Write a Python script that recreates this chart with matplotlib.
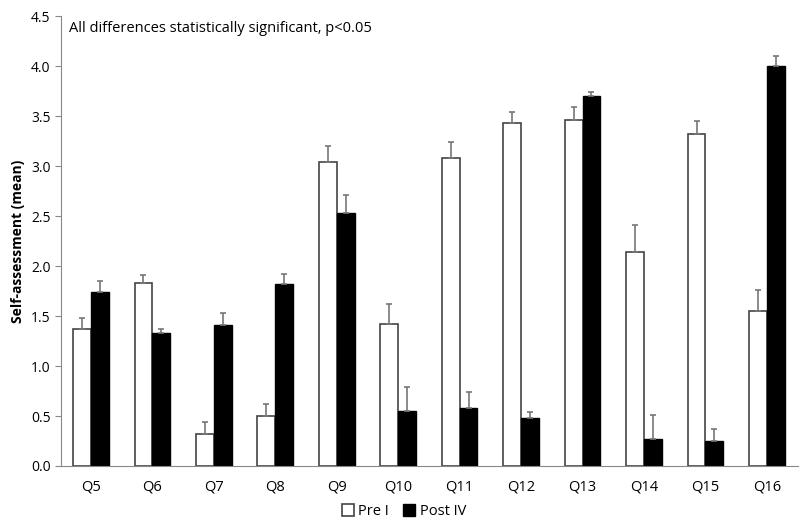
import matplotlib.pyplot as plt
import numpy as np

plt.rcParams['font.family'] = ['Open Sans', 'DejaVu Sans']

questions = ['Q5', 'Q6', 'Q7', 'Q8', 'Q9', 'Q10', 'Q11', 'Q12', 'Q13', 'Q14', 'Q15', 'Q16']
pre_mean = [1.37, 1.83, 0.32, 0.50, 3.04, 1.42, 3.08, 3.43, 3.46, 2.14, 3.32, 1.55]
pre_err = [0.11, 0.08, 0.12, 0.12, 0.16, 0.20, 0.16, 0.11, 0.13, 0.27, 0.13, 0.21]
post_mean = [1.74, 1.33, 1.41, 1.82, 2.53, 0.55, 0.58, 0.48, 3.70, 0.27, 0.25, 4.00]
post_err = [0.11, 0.04, 0.12, 0.10, 0.18, 0.24, 0.16, 0.06, 0.04, 0.24, 0.12, 0.10]

fig = plt.figure(figsize=(8, 5.23), dpi=100)
ax = fig.add_axes([0.076, 0.109, 0.921, 0.86])

x = np.arange(len(questions))
w = 0.29
err_kw = dict(ecolor='#777777', elinewidth=1.2, capsize=2.5, capthick=1.2)
ax.bar(x - w / 2, pre_mean, w, color='white', edgecolor='#444444', linewidth=1.2,
       yerr=[np.zeros(len(x)), pre_err], error_kw=err_kw, label='Pre I')
ax.bar(x + w / 2, post_mean, w, color='black', edgecolor='black', linewidth=1.0,
       yerr=[np.zeros(len(x)), post_err], error_kw=err_kw, label='Post IV')

ax.set_xlim(-0.49, 11.5)
ax.set_ylim(0, 4.5)
ax.set_yticks(np.arange(0, 4.51, 0.5))
ax.set_yticklabels(['%.1f' % v for v in np.arange(0, 4.51, 0.5)], fontsize=10)
ax.set_xticks(x)
ax.set_xticklabels(questions, fontsize=10.5)
ax.tick_params(axis='x', length=0, pad=10)
ax.tick_params(axis='y', length=4, color='#888888')
ax.spines['top'].set_visible(False)
ax.spines['right'].set_visible(False)
ax.spines['left'].set_color('#888888')
ax.spines['bottom'].set_color('#888888')
ax.set_ylabel('Self-assessment (mean)', fontsize=10, fontweight='bold')

ax.text(0.011, 0.99, 'All differences statistically significant, p<0.05',
        fontsize=10.5, va='top', ha='left', transform=ax.transAxes)

fig.legend(loc='center', bbox_to_anchor=(0.505, 0.022), ncol=2, frameon=False,
           fontsize=10.5, handlelength=0.8, handleheight=0.8, handletextpad=0.3,
           columnspacing=1.0, borderpad=0.1)

fig.savefig('out.png', dpi=100)
